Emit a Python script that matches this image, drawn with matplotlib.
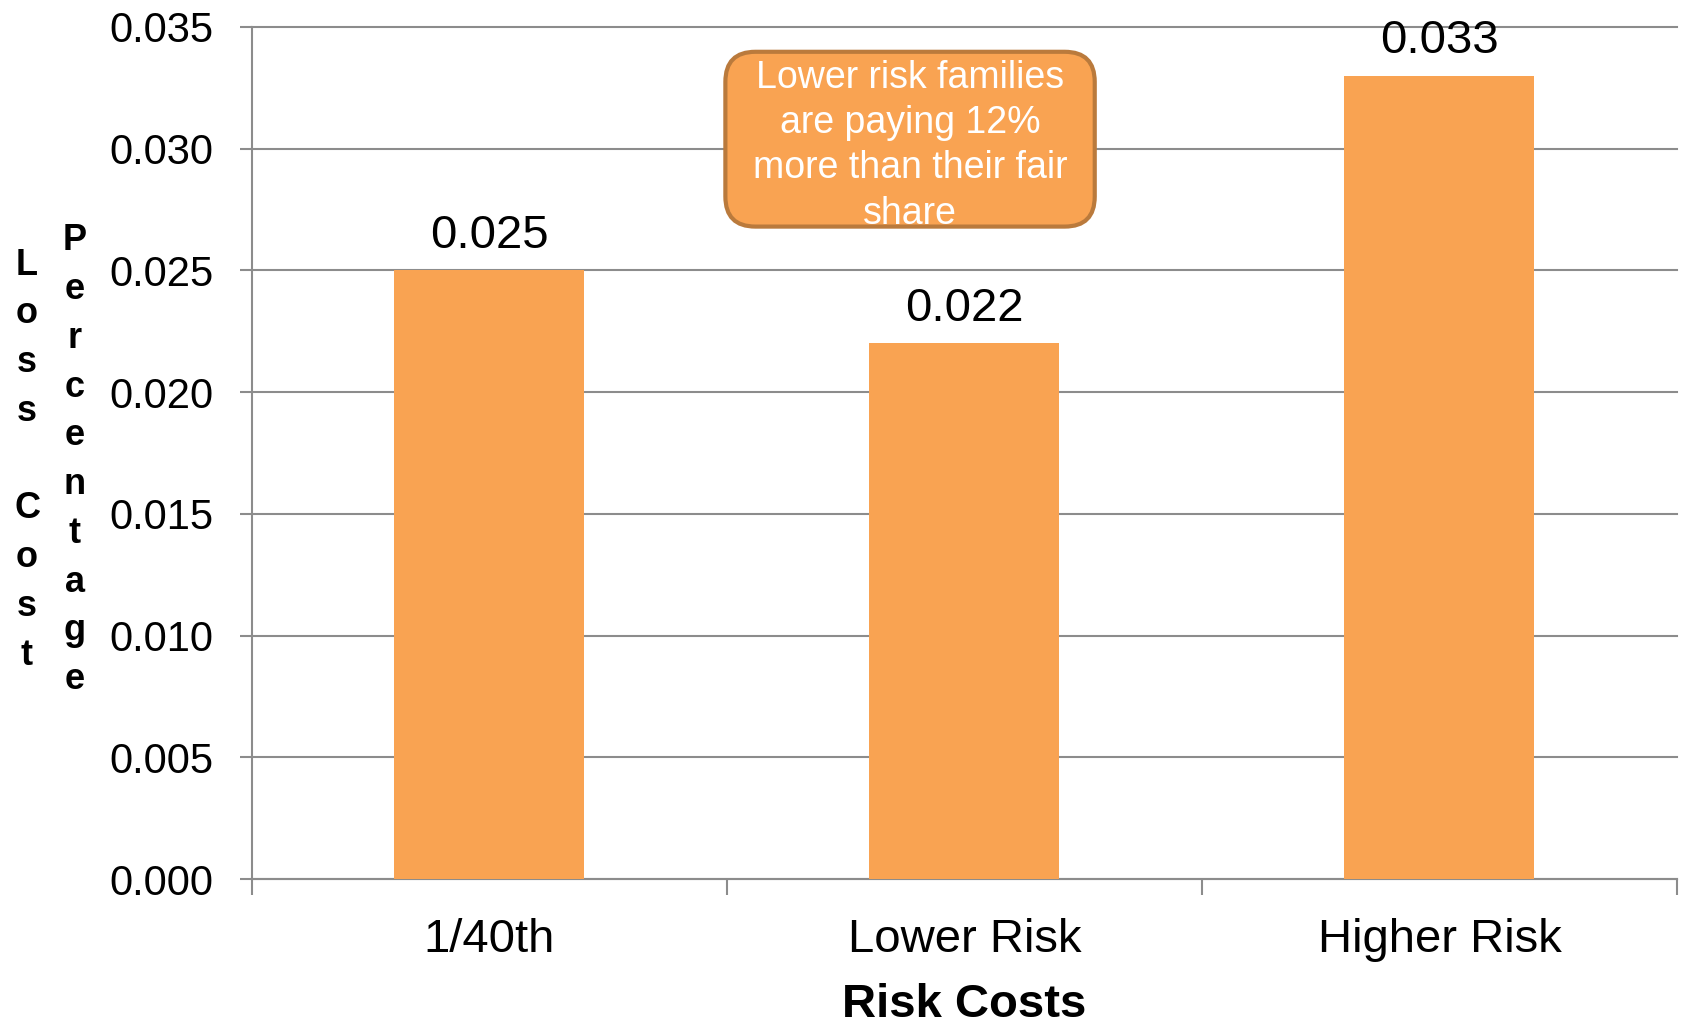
import matplotlib
matplotlib.use('Agg')
import matplotlib.pyplot as plt
from matplotlib.patches import FancyBboxPatch

plt.rcParams['font.family'] = ['Liberation Sans', 'DejaVu Sans']

categories = ['1/40th', 'Lower Risk', 'Higher Risk']
loss_cost = [0.025, 0.022, 0.033]
yticks = [0.000, 0.005, 0.010, 0.015, 0.020, 0.025, 0.030, 0.035]
callout = 'Lower risk families\nare paying 12%\nmore than their fair\nshare'

bar_color = '#F9A352'
edge_color = '#BA7A3C'
grid_color = '#8C8C8C'

fig = plt.figure(figsize=(16.83, 10.25), dpi=100)
ax = fig.add_axes([0.1497, 0.1424, 0.8467, 0.8313])

x = list(range(len(categories)))
ax.bar(x, loss_cost, width=0.4, color=bar_color, zorder=3)

for xi, v in zip(x, loss_cost):
    ax.annotate('{0:.3f}'.format(v), (xi, v), xytext=(0, 16), textcoords='offset points',
                ha='center', va='baseline', fontsize=34, color='black', zorder=4)

ax.set_xlim(-0.5, 2.5)
ax.set_ylim(0, 0.035)
ax.set_yticks(yticks)
ax.set_yticklabels(['{0:.3f}'.format(t) for t in yticks], fontsize=30)
ax.set_xticks(x)
ax.set_xticklabels(categories, fontsize=34)
ax.set_xticks([-0.5, 0.5, 1.5, 2.5], minor=True)

ax.tick_params(axis='x', which='major', length=0, pad=28)
ax.tick_params(axis='x', which='minor', length=11.5, width=1.5, color=grid_color)
ax.tick_params(axis='y', length=8.6, width=1.5, color=grid_color, pad=19)

ax.yaxis.grid(True, color=grid_color, linewidth=1.5, zorder=0)
for line in ax.get_ygridlines():
    line.set_clip_on(False)
ax.set_axisbelow(True)
for side in ['top', 'right']:
    ax.spines[side].set_visible(False)
for side in ['left', 'bottom']:
    ax.spines[side].set_color(grid_color)
    ax.spines[side].set_linewidth(1.5)

# rounded callout box, corners kept circular via mutation_aspect
px_x = 1 / 475.0
px_y = 0.005 / 121.6
box = FancyBboxPatch((0.4967, 0.0268), 1.2743 - 0.4967, 0.03398 - 0.0268,
                     boxstyle='round,pad=0,rounding_size=%f' % (30 * px_x),
                     mutation_aspect=px_y / px_x,
                     facecolor=bar_color, edgecolor=edge_color, linewidth=3,
                     zorder=5, clip_on=False)
ax.add_patch(box)
ax.text(0.885, 0.03012, callout, ha='center', va='center', fontsize=27,
        color='white', linespacing=1.33, zorder=6)

# stacked-letter y axis title
fig.text(27 / 1683, 0.551, '\n'.join('Loss Cost'), ha='center', va='center',
         fontsize=26, fontweight='bold', linespacing=1.51)
fig.text(75 / 1683, 0.551, '\n'.join('Percentage'), ha='center', va='center',
         fontsize=26, fontweight='bold', linespacing=1.51)

fig.text(0.573, 0.0078, 'Risk Costs', ha='center', va='baseline',
         fontsize=34, fontweight='bold')

fig.savefig('out.png', dpi=100)
